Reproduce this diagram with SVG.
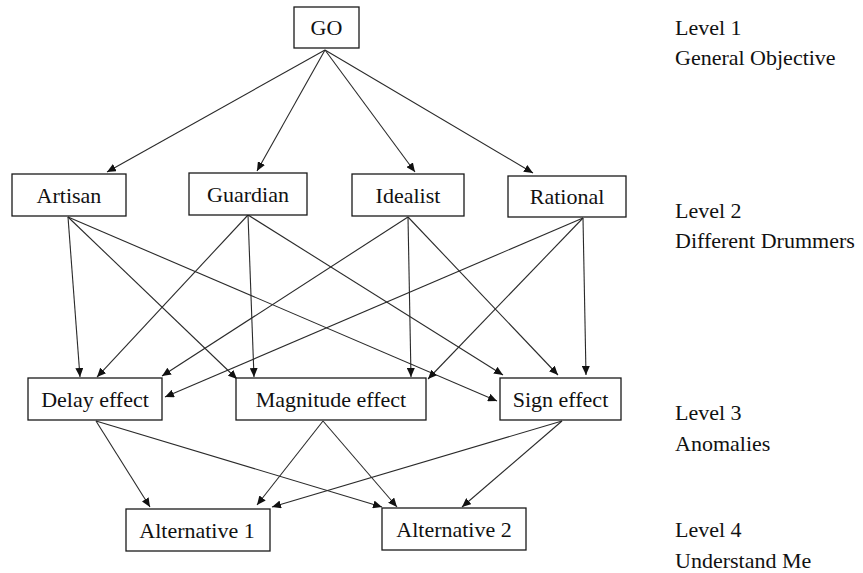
<svg xmlns="http://www.w3.org/2000/svg" width="863" height="573" viewBox="0 0 863 573">
<style>
.box{fill:#fff;stroke:#1a1a1a;stroke-width:1.3}
.t{font-size:22px;fill:#111;text-anchor:middle}
.lv{font-size:22px;fill:#111}
.e{stroke:#2a2a2a;stroke-width:1.1;fill:none;marker-end:url(#ah)}
</style>
<defs>
<marker id="ah" markerUnits="userSpaceOnUse" markerWidth="10" markerHeight="8" refX="9" refY="4" orient="auto">
<path d="M0,0 L9,4 L0,8 Z" fill="#111"/>
</marker>
</defs>
<rect width="863" height="573" fill="#fff"/>
<g id="connectors">
<line class="e" x1="325" y1="50" x2="107" y2="172"/>
<line class="e" x1="325" y1="50" x2="257" y2="171"/>
<line class="e" x1="325" y1="50" x2="415" y2="172"/>
<line class="e" x1="325" y1="50" x2="533" y2="173"/>
<line class="e" x1="68" y1="217" x2="80" y2="377"/>
<line class="e" x1="68" y1="217" x2="237" y2="379"/>
<line class="e" x1="68" y1="217" x2="497" y2="401"/>
<line class="e" x1="248" y1="215" x2="97" y2="377"/>
<line class="e" x1="248" y1="215" x2="254" y2="377"/>
<line class="e" x1="248" y1="215" x2="503" y2="375"/>
<line class="e" x1="408" y1="217" x2="162" y2="376"/>
<line class="e" x1="408" y1="217" x2="411" y2="377"/>
<line class="e" x1="408" y1="217" x2="558" y2="375"/>
<line class="e" x1="583" y1="218" x2="165" y2="397"/>
<line class="e" x1="583" y1="218" x2="428" y2="379"/>
<line class="e" x1="583" y1="218" x2="586" y2="375"/>
<line class="e" x1="96" y1="421" x2="150" y2="507"/>
<line class="e" x1="96" y1="421" x2="382" y2="507"/>
<line class="e" x1="323" y1="421" x2="257" y2="505"/>
<line class="e" x1="323" y1="421" x2="397" y2="507"/>
<line class="e" x1="562" y1="421" x2="272" y2="507"/>
<line class="e" x1="562" y1="421" x2="462" y2="507"/>
</g>
<g font-family="Liberation Serif, DejaVu Serif, serif">
<g id="go"><rect class="box" x="294" y="7" width="65" height="41"/><text class="t" x="326.5" y="35">GO</text></g>
<g id="artisan"><rect class="box" x="12" y="174" width="114" height="42"/><text class="t" x="69" y="203">Artisan</text></g>
<g id="guardian"><rect class="box" x="189" y="173" width="118" height="42"/><text class="t" x="248" y="202">Guardian</text></g>
<g id="idealist"><rect class="box" x="352" y="174" width="112" height="42"/><text class="t" x="408" y="203">Idealist</text></g>
<g id="rational"><rect class="box" x="508" y="176" width="118" height="41"/><text class="t" x="567" y="204">Rational</text></g>
<g id="delay"><rect class="box" x="28" y="378" width="134" height="42"/><text class="t" x="95" y="407">Delay effect</text></g>
<g id="magnitude"><rect class="box" x="236" y="378" width="190" height="42"/><text class="t" x="331" y="407">Magnitude effect</text></g>
<g id="sign"><rect class="box" x="500" y="378" width="121" height="42"/><text class="t" x="560.5" y="407">Sign effect</text></g>
<g id="alt1"><rect class="box" x="126" y="509" width="144" height="42"/><text class="t" x="197" y="538">Alternative 1</text></g>
<g id="alt2"><rect class="box" x="382" y="508" width="144" height="42"/><text class="t" x="454" y="537">Alternative 2</text></g>
<g id="levels">
<text class="lv" x="675" y="35">Level 1</text>
<text class="lv" x="675" y="65">General Objective</text>
<text class="lv" x="675" y="218">Level 2</text>
<text class="lv" x="675" y="248">Different Drummers</text>
<text class="lv" x="675" y="420">Level 3</text>
<text class="lv" x="675" y="451">Anomalies</text>
<text class="lv" x="675" y="537">Level 4</text>
<text class="lv" x="675" y="568">Understand Me</text>
</g>
</g>
</svg>
